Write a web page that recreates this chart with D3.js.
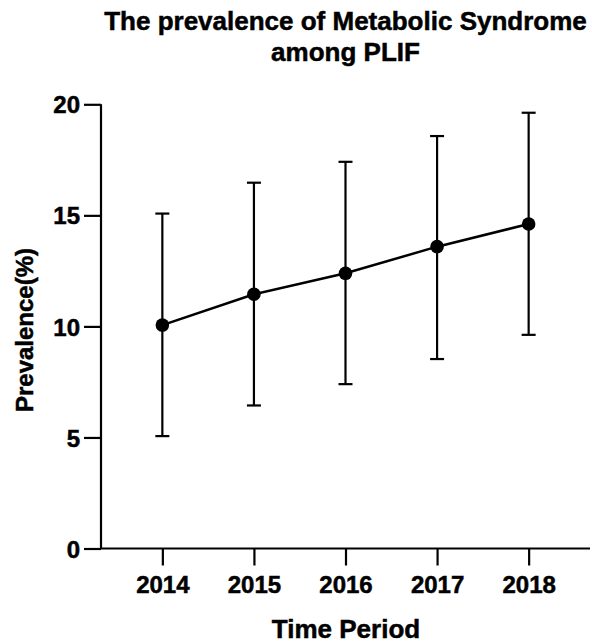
<!DOCTYPE html>
<html>
<head>
<meta charset="utf-8">
<script src="https://cdn.jsdelivr.net/npm/d3@7"></script>
<style>
  html, body { margin: 0; padding: 0; background: #fff; }
  svg { display: block; }
  text { font-family: "Liberation Sans", Arial, Helvetica, sans-serif; font-weight: bold; fill: #000; stroke: #000; stroke-width: 0.5px; }
</style>
</head>
<body>
<svg id="chart" width="592" height="643"></svg>
<script>
const years = [2014, 2015, 2016, 2017, 2018];
const prevalence = [10.06, 11.45, 12.39, 13.59, 14.61];
const lowerCI = [5.06, 6.44, 7.40, 8.53, 9.62];
const upperCI = [15.08, 16.47, 17.41, 18.57, 19.62];
const yTicks = [0, 5, 10, 15, 20];
const titleLines = ["The prevalence of Metabolic Syndrome", "among PLIF"];
const xTitle = "Time Period";
const yTitle = "Prevalence(%)";

const svg = d3.select("#chart");
const plotLeft = 101, plotRight = 590, plotTop = 104.3, plotBottom = 548.5;

const x = d3.scaleLinear().domain([2013.33, 2018.67]).range([plotLeft, plotRight]);
const y = d3.scaleLinear().domain([0, 20]).range([plotBottom, plotTop]);

// Title
svg.append("text")
  .attr("x", (plotLeft + plotRight) / 2).attr("y", 29.5)
  .attr("text-anchor", "middle").style("font-size", "26px")
  .text(titleLines[0]);
svg.append("text")
  .attr("x", (plotLeft + plotRight) / 2).attr("y", 60.5)
  .attr("text-anchor", "middle").style("font-size", "26px")
  .text(titleLines[1]);

// Axes
const yAxis = d3.axisLeft(y).tickValues(yTicks).tickSize(17).tickPadding(4).tickFormat(d3.format("d"));
const gy = svg.append("g").attr("transform", `translate(${plotLeft},0)`).call(yAxis);
gy.select(".domain").attr("d", `M0,${plotTop}V${plotBottom}`).attr("stroke", "#000").attr("stroke-width", 2.2);
gy.selectAll(".tick line").attr("stroke", "#000").attr("stroke-width", 2.2);
gy.selectAll(".tick text").style("font-size", "24px").style("font-family", '"Liberation Sans", Arial, sans-serif').style("font-weight", "bold").attr("dy", "0.36em");

const xAxis = d3.axisBottom(x).tickValues(years).tickSize(17).tickPadding(10).tickFormat(d3.format("d"));
const gx = svg.append("g").attr("transform", `translate(0,${plotBottom})`).call(xAxis);
gx.select(".domain").attr("d", `M${plotLeft},0H${plotRight}`).attr("stroke", "#000").attr("stroke-width", 2.2);
gx.selectAll(".tick line").attr("stroke", "#000").attr("stroke-width", 2.2);
gx.selectAll(".tick text").style("font-size", "24px").style("font-family", '"Liberation Sans", Arial, sans-serif').style("font-weight", "bold");

// Axis titles
svg.append("text")
  .attr("x", 346).attr("y", 638)
  .attr("text-anchor", "middle").style("font-size", "26px")
  .text(xTitle);
svg.append("text")
  .attr("transform", `translate(33,330) rotate(-90)`)
  .attr("text-anchor", "middle").style("font-size", "24px")
  .text(yTitle);

// Error bars
const data = years.map((yr, i) => ({ yr, v: prevalence[i], lo: lowerCI[i], hi: upperCI[i] }));
const eb = svg.append("g").attr("stroke", "#000").attr("stroke-width", 2.2);
eb.selectAll(".stem").data(data).join("line")
  .attr("x1", d => x(d.yr)).attr("x2", d => x(d.yr))
  .attr("y1", d => y(d.lo)).attr("y2", d => y(d.hi));
eb.selectAll(".capHi").data(data).join("line")
  .attr("x1", d => x(d.yr) - 7).attr("x2", d => x(d.yr) + 7)
  .attr("y1", d => y(d.hi)).attr("y2", d => y(d.hi));
eb.selectAll(".capLo").data(data).join("line")
  .attr("x1", d => x(d.yr) - 7).attr("x2", d => x(d.yr) + 7)
  .attr("y1", d => y(d.lo)).attr("y2", d => y(d.lo));

// Line
svg.append("path").datum(data)
  .attr("fill", "none").attr("stroke", "#000").attr("stroke-width", 2.5)
  .attr("d", d3.line().x(d => x(d.yr)).y(d => y(d.v)));

// Points
svg.append("g").selectAll("circle").data(data).join("circle")
  .attr("cx", d => x(d.yr)).attr("cy", d => y(d.v)).attr("r", 6.8).attr("fill", "#000");
</script>
</body>
</html>
